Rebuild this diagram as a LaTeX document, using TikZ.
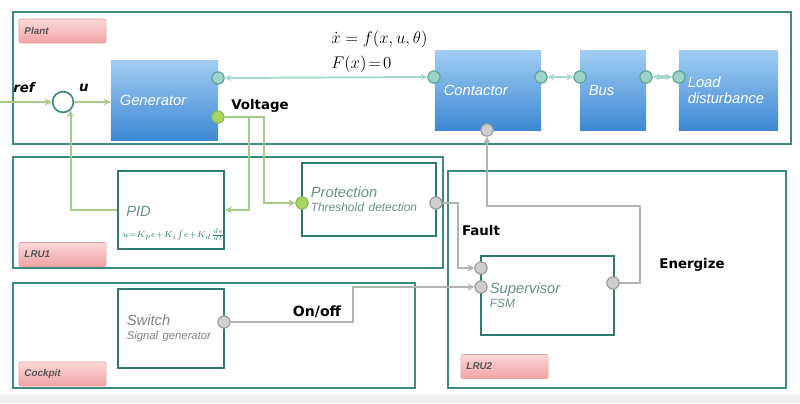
\documentclass[tikz,border=0pt]{standalone}
\usepackage{fontspec}
\setsansfont{Liberation Sans}
\newfontfamily\heavyfont{DejaVu Sans}
\usepackage{amsmath,amssymb}
\usetikzlibrary{arrows.meta}

\definecolor{cframe}{HTML}{3F8A80}
\definecolor{cbox}{HTML}{2E7A70}
\definecolor{cbluetop}{HTML}{A0CCF2}
\definecolor{cbluebot}{HTML}{3C88D4}
\definecolor{cpinktop}{HTML}{FBD8D8}
\definecolor{cpinkbot}{HTML}{EFA3A3}
\definecolor{cpinkline}{HTML}{E9A0A0}
\definecolor{clabel}{HTML}{555555}
\definecolor{cunittext}{HTML}{6A8E8A}
\definecolor{cgreen}{HTML}{A9C98B}
\definecolor{cgreenport}{HTML}{A8D462}
\definecolor{cgreenportline}{HTML}{8DBF55}
\definecolor{cteal}{HTML}{A8D9D1}
\definecolor{ctealport}{HTML}{9ED2C6}
\definecolor{ctealportline}{HTML}{5FA898}
\definecolor{cgrey}{HTML}{B3B3B3}
\definecolor{cgreyport}{HTML}{CFCFCF}
\definecolor{cgreyportline}{HTML}{A0A0A0}

\begin{document}
\begin{tikzpicture}[x=0.025cm,y=-0.025cm,
  frame/.style={draw=cframe,line width=1.4pt},
  tag/.style={draw=cpinkline,line width=0.5pt,rounded corners=1.5pt,top color=cpinktop,bottom color=cpinkbot,
    minimum height=0.6cm,text width=1.9cm,inner xsep=0.14cm,align=left,text=clabel,
    font=\sffamily\bfseries\itshape\fontsize{7}{8}\selectfont},
  block/.style={top color=cbluetop,bottom color=cbluebot,minimum height=1.975cm,inner xsep=0.22cm,
    align=left,text=white,font=\sffamily\itshape\fontsize{10.5}{11.5}\selectfont},
  unit/.style={draw=cbox,line width=1.2pt,fill=white,inner xsep=0.22cm,align=left,text=cunittext,
    font=\sffamily\itshape},
  portteal/.style={circle,draw=ctealportline,fill=ctealport,line width=0.8pt,minimum size=0.3cm,inner sep=0pt},
  portgreen/.style={circle,draw=cgreenportline,fill=cgreenport,line width=0.8pt,minimum size=0.3cm,inner sep=0pt},
  portgrey/.style={circle,draw=cgreyportline,fill=cgreyport,line width=0.8pt,minimum size=0.3cm,inner sep=0pt},
  sig/.style={font=\heavyfont\bfseries\fontsize{9.5}{11}\selectfont,inner sep=0pt},
  greenline/.style={draw=cgreen,line width=1.4pt,-{Stealth[length=5pt,width=5pt]}},
  tealline/.style={draw=cteal,line width=1.4pt,{Stealth[length=5pt,width=5pt]}-{Stealth[length=5pt,width=5pt]}},
  greyline/.style={draw=cgrey,line width=1.2pt,-{Stealth[length=5pt,width=5pt]}}]

\useasboundingbox (0,0) rectangle (800,403);
\fill[black!6] (0,394) rectangle (800,403);

% frames:
\draw[frame] (13,12) rectangle (791,144);
\draw[frame] (13,157) rectangle (443,268);
\draw[frame] (13,283) rectangle (415,388);
\draw[frame] (448,171) rectangle (786,388);

\node[tag] (planttag) at (62.5,31) {Plant};
\node[tag] (lruonetag) at (62.5,254.5) {LRU1};
\node[tag] (cockpittag) at (62.5,374) {Cockpit};
\node[tag] (lrutwotag) at (504.5,366.5) {LRU2};

% plant:
\node[block,text width=2.235cm] (gen) at (164.5,100.5) {Generator};
\node[block,text width=2.21cm] (contactor) at (488,90.5) {Contactor};
\node[block,text width=1.21cm] (bus) at (613,90.5) {Bus};
\node[block,text width=2.035cm] (load) at (728.5,90.5) {Load\\disturbance};

\node[circle,draw=cframe,fill=white,line width=1.2pt,minimum size=0.52cm,inner sep=0pt] (sum) at (63,102) {};
\coordinate (refin) at (0,102);
\node[sig,font=\heavyfont\bfseries\itshape\fontsize{9.5}{11}\selectfont] (ref) at (24,88) {ref};
\node[sig,font=\heavyfont\bfseries\itshape\fontsize{9.5}{11}\selectfont] (u) at (84,88) {u};

\node[anchor=west,inner sep=0pt,font=\fontsize{13}{15}\selectfont] (model) at (331,39) {$\dot{x}=f(x,u,\theta)$};
\node[anchor=west,inner sep=0pt,font=\fontsize{13}{15}\selectfont] (constraint) at (331,64) {$F(x)\mkern-3mu=\mkern-3mu0$};

\node[portteal] (genbus) at (218,78) {};
\node[portgreen] (genvolt) at (218,117) {};
\node[portteal] (conw) at (434,77) {};
\node[portteal] (cone) at (541,77) {};
\node[portgrey] (cons) at (487,130) {};
\node[portteal] (busw) at (580,77) {};
\node[portteal] (buse) at (646,77) {};
\node[portteal] (loadw) at (679,77) {};
\node[sig] (voltage) at (260,106) {Voltage};

% LRU1:
\node[unit,minimum width=2.65cm,minimum height=1.95cm] (pid) at (171,210) {};
\node[anchor=west,inner sep=0pt,text=cunittext,font=\sffamily\itshape\fontsize{10.5}{12}\selectfont] (pidname) at (126,211) {PID};
\node[anchor=west,inner sep=0pt,text=cbox,font=\fontsize{6.5}{7}\selectfont] (pidlaw) at (122,235)
  {$u{=}K_p e{+}K_i\!\int\! e{+}K_d\frac{de}{dt}$};
\node[unit,minimum height=1.825cm,text width=2.91cm] (prot) at (369,199.5)
  {\fontsize{10.5}{12}\selectfont Protection\\[-2pt]\fontsize{8.5}{10}\selectfont Threshold detection};
\node[portgreen] (protin) at (302,203) {};
\node[portgrey] (protout) at (436,203) {};

% cockpit:
\node[unit,minimum height=1.975cm,text width=2.21cm,text=gray] (switch) at (171,328.5)
  {\fontsize{10.5}{12}\selectfont Switch\\[-2pt]\fontsize{8}{10}\selectfont Signal generator};
\node[portgrey] (swout) at (224,322) {};
\node[sig,font=\heavyfont\bfseries\fontsize{10}{12}\selectfont] (onoff) at (317,312) {On/off};

% LRU2:
\node[unit,minimum height=1.975cm,text width=2.885cm] (sup) at (547.5,295.5)
  {\fontsize{10.5}{12}\selectfont Supervisor\\[-2pt]\fontsize{8.5}{10}\selectfont FSM};
\node[portgrey] (supf) at (481,268) {};
\node[portgrey] (supo) at (481,287) {};
\node[portgrey] (supe) at (613,283) {};
\node[sig] (fault) at (481,231) {Fault};
\node[sig] (energize) at (692,265) {Energize};

% connectors:
\draw[greenline] (refin) -- (sum);
\draw[greenline] (sum) -- (gen.west |- sum);
\draw[greenline] (pid.west) -| (sum.-48);
\draw[greenline] (genvolt) -- (249,117) |- (pid.east);
\draw[greenline] (genvolt) -- (264,117) |- (protin);
\draw[tealline] (genbus) -- (conw);
\draw[tealline] (cone) -- (busw);
\draw[tealline,line width=2.6pt] (buse) -- (loadw);
\draw[greyline] (protout) -- (458,203) |- (supf);
\draw[greyline] (swout) -- (353,322) |- (supo);
\draw[greyline] (supe) -- (640,283) -- (640,206) -| (cons);

% redraw ports over the lines
\foreach \p in {genbus,conw,cone,busw,buse,loadw}
  \node[portteal] at (\p) {};
\foreach \p in {genvolt,protin}
  \node[portgreen] at (\p) {};
\foreach \p in {cons,protout,swout,supf,supo,supe}
  \node[portgrey] at (\p) {};

\end{tikzpicture}
\end{document}
